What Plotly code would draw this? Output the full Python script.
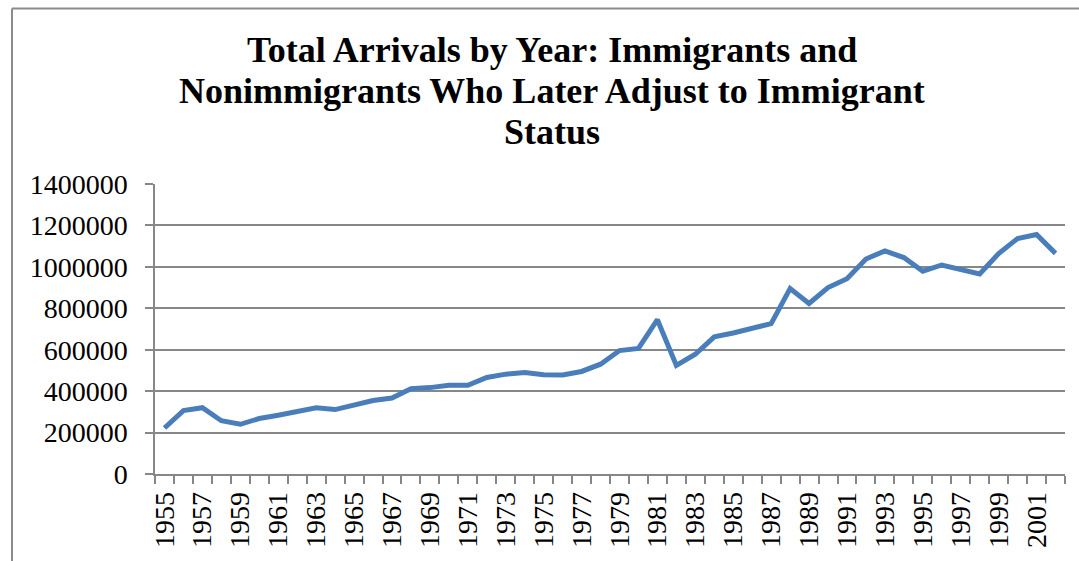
import plotly.graph_objects as go

years = list(range(1955, 2003))
arrivals = [
    222000, 306000, 320000, 257000, 240000, 268000, 284000, 302000, 320000, 311000,
    330000, 355000, 367000, 412000, 417000, 428000, 428000, 466000, 482000, 490000,
    479000, 478000, 495000, 530000, 596000, 606000, 745000, 524000, 578000, 662000,
    681000, 702000, 726000, 895000, 823000, 900000, 943000, 1038000, 1077000, 1045000,
    979000, 1009000, 987000, 966000, 1064000, 1137000, 1156000, 1065000,
]
label_years = [y for y in years if y % 2 == 1]
y_ticks = [0, 200000, 400000, 600000, 800000, 1000000, 1200000, 1400000]

title_lines = [
    "Total Arrivals by Year: Immigrants and",
    "Nonimmigrants Who Later Adjust to Immigrant",
    "Status",
]

W, H = 1079, 561
ML, MR, MT, MB = 155, 14, 184, 87
pw, ph = W - ML - MR, H - MT - MB

fig = go.Figure()
fig.add_trace(go.Scatter(
    x=years, y=arrivals, mode="lines",
    line=dict(color="#4A7EBB", width=5),
    showlegend=False, hoverinfo="x+y",
))

grid = "#878787"
fig.update_layout(
    width=W, height=H,
    margin=dict(l=ML, r=MR, t=MT, b=MB),
    paper_bgcolor="white", plot_bgcolor="white",
    font=dict(family="Liberation Serif", color="black"),
)

# title, one real-text line per annotation
title_x = (552 - ML) / pw
for i, (line, yc) in enumerate(zip(title_lines, [50, 91, 132])):
    fig.add_annotation(
        text=line, xref="paper", yref="paper",
        x=title_x, y=1 + (MT - yc) / ph, xanchor="center", yanchor="middle",
        showarrow=False,
        font=dict(family="Liberation Serif", size=36, color="black", weight="bold"),
    )

fig.update_xaxes(
    range=[years[0] - 0.5, years[-1] + 0.5],
    tickvals=label_years, ticktext=[str(y) for y in label_years],
    tickangle=-90, ticks="", ticklabelstandoff=5,
    tickfont=dict(family="Liberation Serif", size=28, color="black"),
    showgrid=False, zeroline=False,
    showline=True, linecolor=grid, linewidth=1.5,
    minor=dict(tick0=years[0] - 0.5, dtick=1, ticks="outside", ticklen=8,
               tickcolor=grid, tickwidth=1.5, showgrid=False),
)
fig.update_yaxes(
    range=[0, 1400000], tickvals=y_ticks, ticktext=[str(v) for v in y_ticks],
    ticks="outside", ticklen=8, tickcolor=grid, tickwidth=1.5,
    ticklabelstandoff=12,
    tickfont=dict(family="Liberation Serif", size=28, color="black"),
    showgrid=True, gridcolor=grid, gridwidth=1.5, zeroline=False,
    showline=True, linecolor=grid, linewidth=1.5,
)

# outer chart border (top and left edges)
x_left = (12 - ML) / pw
y_top = 1 + (MT - 8.5) / ph
fig.add_shape(type="line", xref="paper", yref="paper",
              x0=x_left, x1=(W - ML) / pw, y0=y_top, y1=y_top,
              line=dict(color="#8C8C8C", width=2))
fig.add_shape(type="line", xref="paper", yref="paper",
              x0=x_left, x1=x_left, y0=y_top, y1=-MB / ph,
              line=dict(color="#8C8C8C", width=2))

fig.write_html("out.html")
